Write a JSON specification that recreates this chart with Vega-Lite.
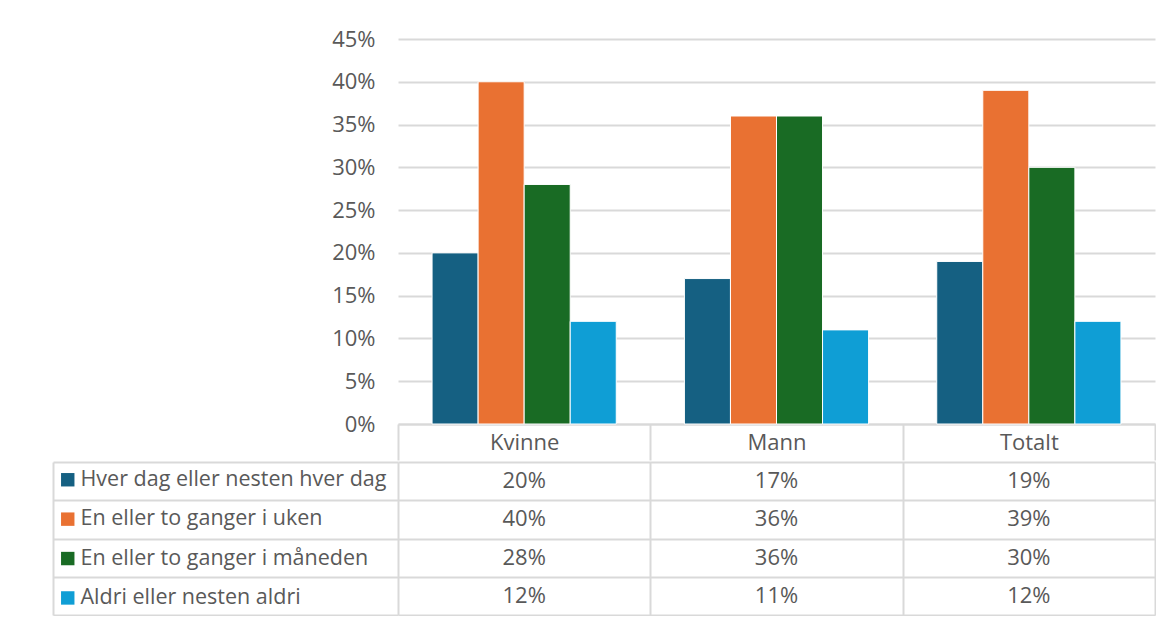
{
  "$schema": "https://vega.github.io/schema/vega-lite/v6.json",
  "padding": {"left": 52, "top": 28, "right": 0, "bottom": 0},
  "background": "white",
  "spacing": 0,
  "datasets": {
    "andeler": [
      {"kjonn": "Kvinne", "serie": "Hver dag eller nesten hver dag", "andel": 0.20},
      {"kjonn": "Kvinne", "serie": "En eller to ganger i uken", "andel": 0.40},
      {"kjonn": "Kvinne", "serie": "En eller to ganger i måneden", "andel": 0.28},
      {"kjonn": "Kvinne", "serie": "Aldri eller nesten aldri", "andel": 0.12},
      {"kjonn": "Mann", "serie": "Hver dag eller nesten hver dag", "andel": 0.17},
      {"kjonn": "Mann", "serie": "En eller to ganger i uken", "andel": 0.36},
      {"kjonn": "Mann", "serie": "En eller to ganger i måneden", "andel": 0.36},
      {"kjonn": "Mann", "serie": "Aldri eller nesten aldri", "andel": 0.11},
      {"kjonn": "Totalt", "serie": "Hver dag eller nesten hver dag", "andel": 0.19},
      {"kjonn": "Totalt", "serie": "En eller to ganger i uken", "andel": 0.39},
      {"kjonn": "Totalt", "serie": "En eller to ganger i måneden", "andel": 0.30},
      {"kjonn": "Totalt", "serie": "Aldri eller nesten aldri", "andel": 0.12}
    ]
  },
  "resolve": {"scale": {"color": "independent"}, "legend": {"color": "independent"}},
  "vconcat": [
    {
      "width": 757,
      "height": 385,
      "data": {"name": "andeler"},
      "mark": {"type": "bar", "stroke": "white", "strokeWidth": 1},
      "encoding": {
        "x": {
          "field": "kjonn",
          "type": "nominal",
          "sort": ["Kvinne", "Mann", "Totalt"],
          "scale": {"paddingInner": 0, "paddingOuter": 0},
          "axis": {
            "title": null,
            "labelAngle": 0,
            "tickBand": "extent",
            "tickSize": 36,
            "tickColor": "#d9d9d9",
            "tickWidth": 2,
            "domainColor": "#d9d9d9",
            "domainWidth": 2,
            "labelBaseline": "middle",
            "labelPadding": -18,
            "grid": false
          }
        },
        "xOffset": {
          "field": "serie",
          "sort": ["Hver dag eller nesten hver dag", "En eller to ganger i uken", "En eller to ganger i måneden", "Aldri eller nesten aldri"],
          "scale": {"paddingInner": 0, "paddingOuter": 0.74}
        },
        "y": {
          "field": "andel",
          "type": "quantitative",
          "scale": {"domain": [0, 0.45], "nice": false},
          "axis": {
            "title": null,
            "format": ".0%",
            "values": [0, 0.05, 0.1, 0.15, 0.2, 0.25, 0.3, 0.35, 0.4, 0.45],
            "domain": false,
            "ticks": false,
            "labelPadding": 23,
            "grid": true,
            "gridColor": "#d9d9d9",
            "gridWidth": 2
          }
        },
        "color": {
          "field": "serie",
          "type": "nominal",
          "scale": {
            "domain": ["Hver dag eller nesten hver dag", "En eller to ganger i uken", "En eller to ganger i måneden", "Aldri eller nesten aldri"],
            "range": ["#156082", "#e97132", "#196b24", "#0f9ed5"]
          },
          "legend": null
        }
      }
    },
    {
      "width": 757,
      "height": 153,
      "data": {"name": "andeler"},
      "layer": [
        {
          "mark": {"type": "square", "opacity": 0},
          "encoding": {
            "color": {
              "field": "serie",
              "type": "nominal",
              "scale": {
                "domain": ["Hver dag eller nesten hver dag", "En eller to ganger i uken", "En eller to ganger i måneden", "Aldri eller nesten aldri"],
                "range": ["#156082", "#e97132", "#196b24", "#0f9ed5"]
              },
              "legend": {
                "orient": "none",
                "legendX": -341,
                "legendY": 7,
                "title": null,
                "symbolType": "square",
                "symbolSize": 180,
                "symbolStrokeWidth": 0,
                "symbolOpacity": 1,
                "labelOffset": 2,
                "labelFontSize": 21.5,
                "rowPadding": 16.4,
                "padding": 0,
                "labelLimit": 500
              }
            }
          }
        },
        {
          "mark": {"type": "text", "fontSize": 22, "color": "#595959", "baseline": "middle"},
          "encoding": {
            "text": {"field": "andel", "type": "quantitative", "format": ".0%"}
          }
        }
      ],
      "encoding": {
        "x": {
          "field": "kjonn",
          "type": "nominal",
          "sort": ["Kvinne", "Mann", "Totalt"],
          "scale": {"paddingInner": 0, "paddingOuter": 0},
          "axis": {
            "title": null,
            "labels": false,
            "ticks": false,
            "domain": false,
            "grid": true,
            "tickBand": "extent",
            "gridColor": "#d9d9d9",
            "gridWidth": 2
          }
        },
        "y": {
          "field": "serie",
          "type": "nominal",
          "sort": ["Hver dag eller nesten hver dag", "En eller to ganger i uken", "En eller to ganger i måneden", "Aldri eller nesten aldri"],
          "scale": {"paddingInner": 0, "paddingOuter": 0},
          "axis": {
            "title": null,
            "labels": false,
            "grid": true,
            "tickBand": "extent",
            "gridColor": "#d9d9d9",
            "gridWidth": 2,
            "ticks": true,
            "tickSize": -345,
            "tickColor": "#d9d9d9",
            "tickWidth": 2,
            "offset": 345,
            "domain": true,
            "domainColor": "#d9d9d9",
            "domainWidth": 2
          }
        }
      }
    }
  ],
  "config": {
    "font": "Open Sans",
    "view": {"stroke": null},
    "axis": {
      "labelFont": "Open Sans",
      "labelFontSize": 22,
      "labelColor": "#595959"
    },
    "legend": {
      "labelFont": "Open Sans",
      "labelFontSize": 22,
      "labelColor": "#595959"
    },
    "text": {"font": "Open Sans"}
  }
}
